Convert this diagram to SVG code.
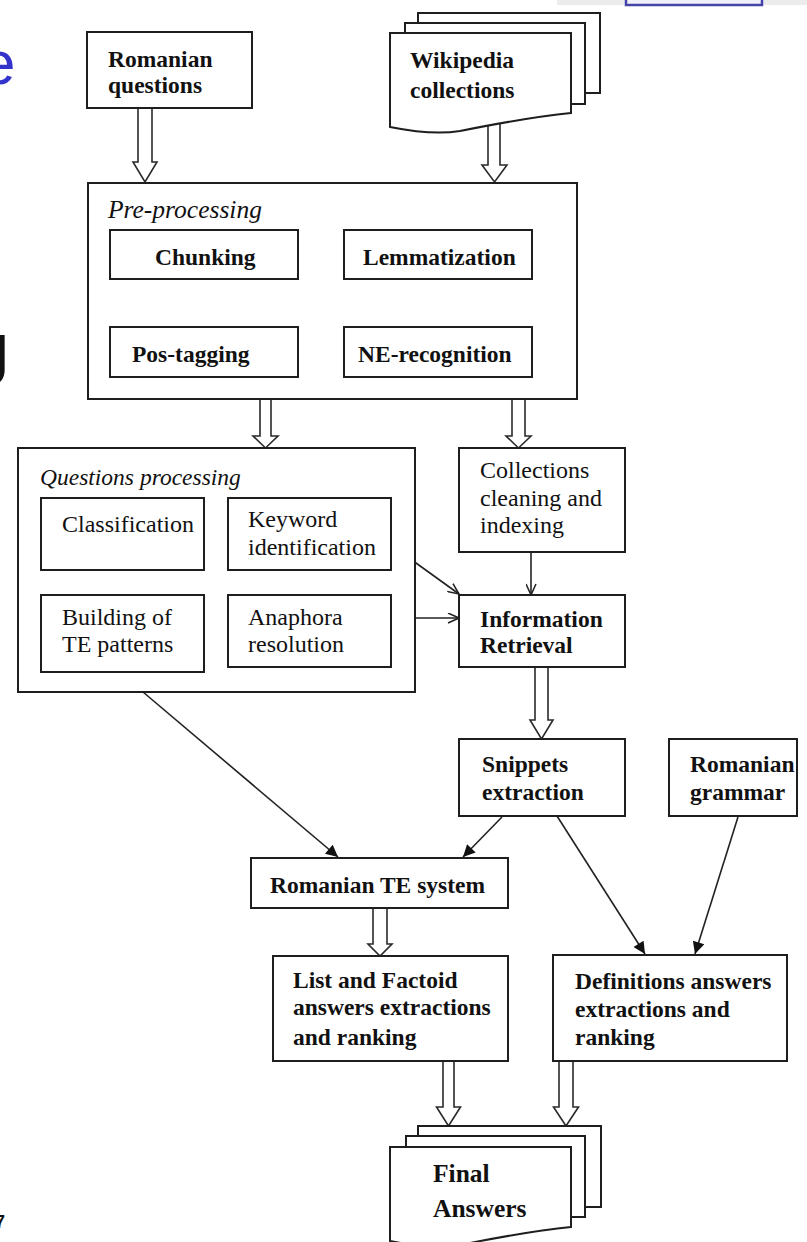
<svg xmlns="http://www.w3.org/2000/svg" width="807" height="1242" viewBox="0 0 807 1242">
<style>
.box{fill:#fff;stroke:#1e1e1e;stroke-width:2}
.doc{fill:#fff;stroke:#1e1e1e;stroke-width:2;stroke-linejoin:miter}
.b{font-family:"Liberation Serif",serif;font-weight:bold;font-size:23.5px;fill:#111}
.r{font-family:"Liberation Serif",serif;font-size:24px;fill:#111}
.i{font-family:"Liberation Serif",serif;font-style:italic;font-size:23.5px;fill:#111}
.big{font-size:25.5px}
.ha{fill:#fff;stroke:#2a2a2a;stroke-width:1.6;stroke-linejoin:miter}
.ln{fill:none;stroke:#222;stroke-width:1.6}
</style>
<defs>
<marker id="fa" viewBox="0 0 10 10" refX="10" refY="5" markerUnits="userSpaceOnUse" markerWidth="15" markerHeight="12" orient="auto"><path d="M0,0 L10,5 L0,10 z" fill="#111"/></marker>
<marker id="oa" viewBox="0 0 10 10" refX="10" refY="5" markerUnits="userSpaceOnUse" markerWidth="13" markerHeight="11" orient="auto"><path d="M0,0.5 L10,5 L0,9.5" fill="none" stroke="#222" stroke-width="1.4"/></marker>
</defs>
<rect width="807" height="1242" fill="#fff"/>

<g id="slide-fragments">
<rect x="557" y="0" width="250" height="5" fill="#ececec"/>
<rect x="626" y="-4" width="136" height="9" fill="#f0f0fa" stroke="#4444aa" stroke-width="2.5"/>
<text x="-19" y="84" font-family="Liberation Sans,sans-serif" font-size="62" fill="#3333cc">e</text>
<text x="-26" y="385" font-family="Liberation Sans,sans-serif" font-size="72" fill="#111">J</text>
<text x="-5" y="1228" font-family="Liberation Sans,sans-serif" font-weight="bold" font-size="18" fill="#111">7</text>
</g>

<g id="connectors">
<polygon class="ha" points="138,108 152,108 152,162 157,162 145,182 133,162 138,162"/>
<polygon class="ha" points="488,118 500,118 500,165 507,165 494.5,182 482,165 488,165"/>
<polygon class="ha" points="260,399 271,399 271,436 278,436 265.5,448 253,436 260,436"/>
<polygon class="ha" points="512,399 525,399 525,436 531,436 518.5,448 506,436 512,436"/>
<polygon class="ha" points="535,667 548,667 548,720 553,720 541.5,739 530,720 535,720"/>
<polygon class="ha" points="373,908 387,908 387,944 392,944 380,956 368,944 373,944"/>
<polygon class="ha" points="443,1061 454,1061 454,1107 460.5,1107 448.5,1126 436.5,1107 443,1107"/>
<polygon class="ha" points="559,1061 573,1061 573,1107 578.5,1107 566,1126 553.5,1107 559,1107"/>
<line class="ln" x1="391" y1="545" x2="459" y2="594" marker-end="url(#oa)"/>
<line class="ln" x1="391" y1="618" x2="459" y2="618" stroke-width="2.2" marker-end="url(#oa)"/>
<line class="ln" x1="531" y1="552" x2="531" y2="595" marker-end="url(#oa)"/>
<line class="ln" x1="143" y1="692" x2="338" y2="857" marker-end="url(#fa)"/>
<line class="ln" x1="502" y1="817" x2="463" y2="857" marker-end="url(#fa)"/>
<line class="ln" x1="557" y1="816" x2="645" y2="954" marker-end="url(#fa)"/>
<line class="ln" x1="738" y1="817" x2="695" y2="954" marker-end="url(#fa)"/>
</g>

<g id="romanian-questions">
<rect class="box" x="87" y="32" width="165" height="76"/>
<text class="b" x="108" y="67">Romanian</text>
<text class="b" x="108" y="93">questions</text>
</g>

<g id="wikipedia-collections">
<rect class="doc" x="418" y="13" width="182" height="80"/>
<rect class="doc" x="405" y="23" width="180" height="81"/>
<path class="doc" d="M390,33 H571 V113 C530,117 495,124 460,131 C435,135 410,131 390,127 Z"/>
<text class="b" x="410" y="68">Wikipedia</text>
<text class="b" x="410" y="98">collections</text>
</g>

<g id="pre-processing">
<rect class="box" x="88" y="183" width="489" height="216"/>
<text class="i big" x="108" y="218">Pre-processing</text>
</g>
<g id="chunking">
<rect class="box" x="110" y="230" width="188" height="49"/>
<text class="b" x="155" y="265">Chunking</text>
</g>
<g id="lemmatization">
<rect class="box" x="344" y="230" width="188" height="49"/>
<text class="b" x="363" y="265">Lemmatization</text>
</g>
<g id="pos-tagging">
<rect class="box" x="110" y="327" width="188" height="50"/>
<text class="b" x="132" y="362">Pos-tagging</text>
</g>
<g id="ne-recognition">
<rect class="box" x="344" y="327" width="188" height="50"/>
<text class="b" x="358" y="362">NE-recognition</text>
</g>

<g id="questions-processing">
<rect class="box" x="18" y="448" width="397" height="244"/>
<text class="i" x="40" y="485">Questions processing</text>
</g>
<g id="classification">
<rect class="box" x="41" y="498" width="163" height="72"/>
<text class="r" x="62" y="532">Classification</text>
</g>
<g id="keyword-identification">
<rect class="box" x="228" y="498" width="163" height="72"/>
<text class="r" x="248" y="527">Keyword</text>
<text class="r" x="248" y="555">identification</text>
</g>
<g id="building-te-patterns">
<rect class="box" x="41" y="595" width="163" height="77"/>
<text class="r" x="62" y="625">Building of</text>
<text class="r" x="62" y="652">TE patterns</text>
</g>
<g id="anaphora-resolution">
<rect class="box" x="228" y="595" width="163" height="72"/>
<text class="r" x="248" y="625">Anaphora</text>
<text class="r" x="248" y="652">resolution</text>
</g>

<g id="collections-cleaning">
<rect class="box" x="459" y="448" width="166" height="104"/>
<text class="r" x="480" y="478">Collections</text>
<text class="r" x="480" y="506">cleaning and</text>
<text class="r" x="480" y="533">indexing</text>
</g>

<g id="information-retrieval">
<rect class="box" x="459" y="595" width="166" height="72"/>
<text class="b" x="480" y="627">Information</text>
<text class="b" x="480" y="653">Retrieval</text>
</g>

<g id="snippets-extraction">
<rect class="box" x="459" y="739" width="166" height="77"/>
<text class="b" x="482" y="772">Snippets</text>
<text class="b" x="482" y="800">extraction</text>
</g>

<g id="romanian-grammar">
<rect class="box" x="669" y="739" width="128" height="77"/>
<text class="b" x="690" y="772">Romanian</text>
<text class="b" x="690" y="800">grammar</text>
</g>

<g id="romanian-te-system">
<rect class="box" x="251" y="858" width="257" height="50"/>
<text class="b" x="270" y="893">Romanian TE system</text>
</g>

<g id="list-factoid">
<rect class="box" x="273" y="956" width="235" height="105"/>
<text class="b" x="293" y="988">List and Factoid</text>
<text class="b" x="293" y="1015">answers extractions</text>
<text class="b" x="293" y="1045">and ranking</text>
</g>

<g id="definitions">
<rect class="box" x="553" y="955" width="234" height="106"/>
<text class="b" x="575" y="989">Definitions answers</text>
<text class="b" x="575" y="1017">extractions and</text>
<text class="b" x="575" y="1045">ranking</text>
</g>

<g id="final-answers">
<rect class="doc" x="418" y="1126" width="183" height="81"/>
<rect class="doc" x="406" y="1136" width="179" height="81"/>
<path class="doc" d="M390,1147 H571 V1227 C530,1231 495,1238 460,1245 C435,1249 410,1245 390,1241 Z"/>
<text class="b big" x="433" y="1182">Final</text>
<text class="b big" x="433" y="1217">Answers</text>
</g>
</svg>
